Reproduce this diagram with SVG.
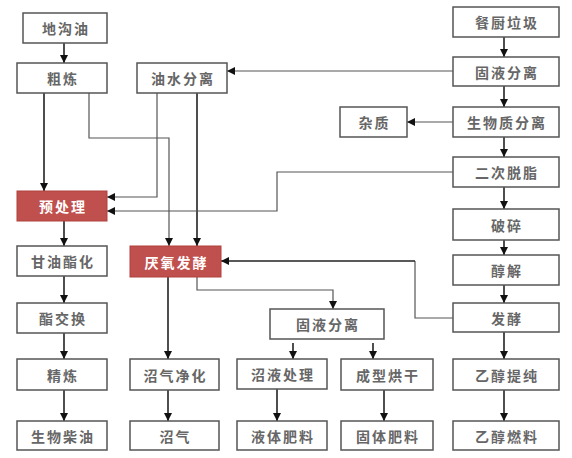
<svg xmlns="http://www.w3.org/2000/svg" width="572" height="458" viewBox="0 0 572 458">
<defs>
<marker id="ah" markerWidth="8" markerHeight="8" refX="8" refY="4" orient="auto" markerUnits="userSpaceOnUse">
<path d="M0,0 L8,4 L0,8 Z" fill="#111"/>
</marker>
<style>
.box{fill:#fff;stroke:#555;stroke-width:1.5}
.red{fill:#c0504d;stroke:#b0403d;stroke-width:1}
.t{font-family:"Noto Sans CJK SC","Noto Sans",sans-serif;font-size:14px;font-weight:bold;fill:#666;text-anchor:middle;dominant-baseline:central;letter-spacing:2px}
.tw{fill:#fff}
.c{fill:none;stroke:#222;stroke-width:1.6}
.thin{fill:none;stroke:#555;stroke-width:1.2}
</style>
</defs>
<rect width="572" height="458" fill="#fff"/>
<g id="connectors">
<path class="c" d="M64 43 V63" marker-end="url(#ah)"/>
<path class="c" d="M44 93 V191" marker-end="url(#ah)"/>
<path class="thin" d="M89 93 V138 H169 V246" marker-end="url(#ah)"/>
<path class="thin" d="M157 93 V197 H107" marker-end="url(#ah)"/>
<path class="c" d="M197 93 V246" marker-end="url(#ah)"/>
<path class="thin" d="M453 71 H227" marker-end="url(#ah)"/>
<path class="c" d="M504 37 V57" marker-end="url(#ah)"/>
<path class="c" d="M504 86 V107" marker-end="url(#ah)"/>
<path class="c" d="M504 137 V157" marker-end="url(#ah)"/>
<path class="c" d="M504 187 V209" marker-end="url(#ah)"/>
<path class="c" d="M504 240 V255" marker-end="url(#ah)"/>
<path class="c" d="M504 285 V303" marker-end="url(#ah)"/>
<path class="c" d="M504 332 V359" marker-end="url(#ah)"/>
<path class="c" d="M504 390 V421" marker-end="url(#ah)"/>
<path class="thin" d="M453 122 H407" marker-end="url(#ah)"/>
<path class="thin" d="M453 172 H277 V211 H107" marker-end="url(#ah)"/>
<path class="thin" d="M453 318 H415 V261" />
<path class="c" d="M415 261 H221" marker-end="url(#ah)"/>
<path class="thin" d="M197 277 V290 H333 V309" marker-end="url(#ah)"/>
<path class="c" d="M168 277 V359" marker-end="url(#ah)"/>
<path class="c" d="M168 390 V421" marker-end="url(#ah)"/>
<path class="c" d="M293 343 V359" marker-end="url(#ah)"/>
<path class="c" d="M373 343 V359" marker-end="url(#ah)"/>
<path class="c" d="M277 389 V421" marker-end="url(#ah)"/>
<path class="c" d="M384 390 V421" marker-end="url(#ah)"/>
<path class="c" d="M64 221 V246" marker-end="url(#ah)"/>
<path class="c" d="M64 276 V303" marker-end="url(#ah)"/>
<path class="c" d="M64 333 V359" marker-end="url(#ah)"/>
<path class="c" d="M64 390 V421" marker-end="url(#ah)"/>
</g>
<g id="n1"><rect class="box" x="23" y="13" width="84" height="30"/><text class="t" x="66" y="28">地沟油</text></g>
<g id="n2"><rect class="box" x="17" y="63" width="90" height="30"/><text class="t" x="63" y="78">粗炼</text></g>
<g id="n3"><rect class="box" x="137" y="63" width="90" height="30"/><text class="t" x="183" y="78">油水分离</text></g>
<g id="n4"><rect class="red" x="17" y="191" width="90" height="30"/><text class="t tw" x="63" y="206">预处理</text></g>
<g id="n5"><rect class="box" x="17" y="246" width="90" height="30"/><text class="t" x="63" y="261">甘油酯化</text></g>
<g id="n6"><rect class="box" x="17" y="303" width="90" height="30"/><text class="t" x="63" y="318">酯交换</text></g>
<g id="n7"><rect class="box" x="17" y="359" width="90" height="31"/><text class="t" x="63" y="374.5">精炼</text></g>
<g id="n8"><rect class="box" x="17" y="421" width="90" height="29"/><text class="t" x="63" y="435.5">生物柴油</text></g>
<g id="n9"><rect class="red" x="130" y="246" width="91" height="31"/><text class="t tw" x="176.5" y="261.5">厌氧发酵</text></g>
<g id="n10"><rect class="box" x="130" y="359" width="89" height="31"/><text class="t" x="175.5" y="374.5">沼气净化</text></g>
<g id="n11"><rect class="box" x="130" y="421" width="89" height="29"/><text class="t" x="175.5" y="435.5">沼气</text></g>
<g id="n12"><rect class="box" x="270" y="309" width="114" height="30"/><text class="t" x="328" y="324">固液分离</text></g>
<g id="n13"><rect class="box" x="237" y="359" width="90" height="30"/><text class="t" x="283" y="374">沼液处理</text></g>
<g id="n14"><rect class="box" x="237" y="421" width="90" height="29"/><text class="t" x="283" y="435.5">液体肥料</text></g>
<g id="n15"><rect class="box" x="341" y="359" width="92" height="31"/><text class="t" x="388" y="374.5">成型烘干</text></g>
<g id="n16"><rect class="box" x="341" y="421" width="92" height="29"/><text class="t" x="388" y="435.5">固体肥料</text></g>
<g id="n17"><rect class="box" x="453" y="7" width="106" height="30"/><text class="t" x="507" y="22">餐厨垃圾</text></g>
<g id="n18"><rect class="box" x="453" y="57" width="106" height="29"/><text class="t" x="507" y="71.5">固液分离</text></g>
<g id="n19"><rect class="box" x="340" y="107" width="67" height="30"/><text class="t" x="374.5" y="122">杂质</text></g>
<g id="n20"><rect class="box" x="453" y="107" width="106" height="30"/><text class="t" x="507" y="122">生物质分离</text></g>
<g id="n21"><rect class="box" x="453" y="157" width="106" height="30"/><text class="t" x="507" y="172">二次脱脂</text></g>
<g id="n22"><rect class="box" x="453" y="209" width="106" height="31"/><text class="t" x="507" y="224.5">破碎</text></g>
<g id="n23"><rect class="box" x="453" y="255" width="106" height="30"/><text class="t" x="507" y="270">醇解</text></g>
<g id="n24"><rect class="box" x="453" y="303" width="106" height="29"/><text class="t" x="507" y="317.5">发酵</text></g>
<g id="n25"><rect class="box" x="453" y="359" width="106" height="31"/><text class="t" x="507" y="374.5">乙醇提纯</text></g>
<g id="n26"><rect class="box" x="453" y="421" width="106" height="29"/><text class="t" x="507" y="435.5">乙醇燃料</text></g>
</svg>
